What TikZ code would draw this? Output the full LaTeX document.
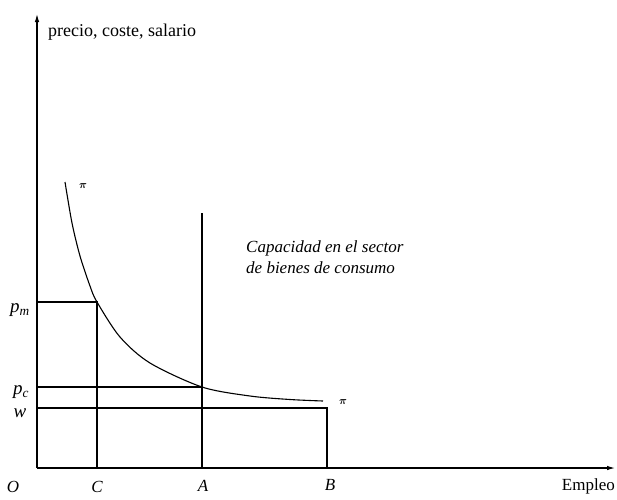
\documentclass[tikz,border=0pt]{standalone}
\usepackage{fontspec}
\setmainfont{Liberation Serif}
\usetikzlibrary{arrows.meta}

\begin{document}
\begin{tikzpicture}[
        x=1pt, y=-1pt,
        every node/.style={inner sep=0pt, font=\fontsize{17}{21}\selectfont},
        axis/.style={line width=1.1pt, -{Latex[length=8pt,width=4.5pt]}},
        guide/.style={line width=1.1pt},
        pilabel/.style={font=\fontsize{11}{13}\selectfont\boldmath},
        level/.style={font=\fontsize{19}{21}\selectfont\itshape}
    ]
        \useasboundingbox (0,0) rectangle (617,499);

        % Axes
        \coordinate (O) at (37,468);
        \coordinate (ytop) at (37,14);
        \coordinate (xend) at (615,468);
        \draw[axis] (O) -- (ytop);
        \draw[axis] (O) -- (xend);

        % Price levels and employment points
        \coordinate (pm) at (37,302);
        \coordinate (pc) at (37,387);
        \coordinate (w) at (37,408);
        \coordinate (C) at (97,468);
        \coordinate (A) at (202,468);
        \coordinate (B) at (327,468);
        \coordinate (Cpm) at (97,302);
        \coordinate (Apc) at (202,387);
        \coordinate (Atop) at (202,213);
        \coordinate (Bw) at (327,408);

        \draw[guide] (pm) -- (Cpm) -- (C);
        \draw[guide] (pc) -- (Apc);
        \draw[guide] (Atop) -- (A);
        \draw[guide] (w) -- (Bw) -- (B);

        % Curve pi
        \draw[guide] plot[smooth, tension=0.5] coordinates
            {(65,182) (72,223) (80,256) (90,286) (97,302) (120,337) (150,363)
             (202,387) (250,396) (290,399.5) (323,401)};
        \node[pilabel] (pitop) at (83,186) {$\pi$};
        \node[pilabel] (piend) at (343,402) {$\pi$};

        % Labels
        \node[anchor=west, font=\fontsize{18}{21}\selectfont] (ylab) at (48,32) {precio, coste, salario};
        \node[anchor=east] (xlab) at (615,486) {Empleo};
        \node (labO) at (13,487) {\itshape O};
        \node (labC) at (97,487) {\itshape C};
        \node (labA) at (203,486) {\itshape A};
        \node (labB) at (330,485) {\itshape B};
        \node[level] (labpm) at (20,310) {p\textsubscript{m}};
        \node[level] (labpc) at (21,392) {p\textsubscript{c}};
        \node[level] (labw) at (20,413) {w};
        \node[anchor=west, align=left, font=\fontsize{17}{21}\selectfont\itshape]
            (cap) at (246,257) {Capacidad en el sector\\de bienes de consumo};
\end{tikzpicture}
\end{document}
